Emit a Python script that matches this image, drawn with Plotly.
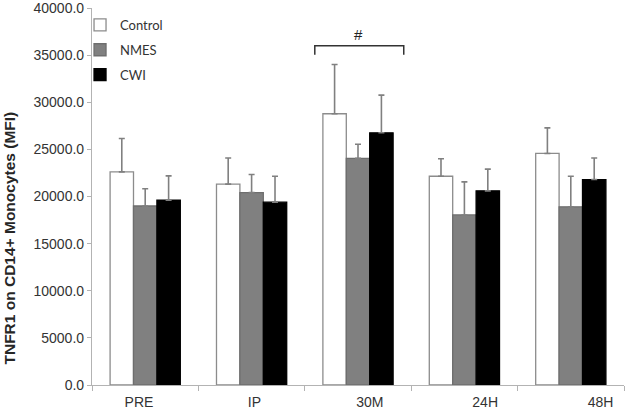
import plotly.graph_objects as go

categories = ["PRE", "IP", "30M", "24H", "48H"]
series_names = ["Control", "NMES", "CWI"]

control_vals = [22610, 21310, 28780, 22150, 24570]
control_err = [3550, 2780, 5220, 1850, 2710]
nmes_vals = [18990, 20420, 24040, 18040, 18900]
nmes_err = [1830, 1910, 1500, 3510, 3250]
cwi_vals = [19620, 19400, 26760, 20600, 21800]
cwi_err = [2570, 2750, 4000, 2300, 2280]

y_ticks = [0, 5000, 10000, 15000, 20000, 25000, 30000, 35000, 40000]
y_title = "TNFR1 on CD14+ Monocytes (MFI)"
sig_label = "#"

fills = ["#ffffff", "#808080", "#000000"]
outlines = ["#8c8c8c", "#6e6e6e", "#000000"]
axis_grey = "#b3b3b3"
tick_font = dict(family="Liberation Sans, Arial, sans-serif", size=14, color="#333333")

fig = go.Figure()
for name, vals, errs, fc, lc in zip(series_names,
                                    [control_vals, nmes_vals, cwi_vals],
                                    [control_err, nmes_err, cwi_err],
                                    fills, outlines):
    fig.add_trace(go.Bar(
        x=categories, y=vals, name=name, legendgroup=name,
        marker=dict(color=fc, line=dict(color=lc, width=1.3)),
        error_y=dict(type="data", symmetric=False, array=errs,
                     arrayminus=[0] * len(errs),
                     color="#808080", thickness=1.6, width=3),
    ))

# invisible carrier trace so the label axis (x2) is drawn
fig.add_trace(go.Scatter(x=list(range(len(categories))), y=[0] * len(categories),
                         xaxis="x2", yaxis="y", mode="markers",
                         marker=dict(opacity=0), showlegend=False, hoverinfo="skip"))

# significance bracket over 30M group
fig.add_shape(type="path",
              path="M 1.594,35050 L 1.594,36000 L 2.43,36000 L 2.43,35050",
              xref="x", yref="y", line=dict(color="#333333", width=1.5))
fig.add_annotation(x=2.0, y=36050, xref="x", yref="y", text=sig_label,
                   showarrow=False, yanchor="bottom",
                   font=dict(family="Liberation Sans, Arial, sans-serif", size=15, color="#222222"))

# y-axis title
fig.add_annotation(x=-0.155, y=0.39, xref="paper", yref="paper", text="<b>" + y_title + "</b>",
                   textangle=-90, showarrow=False, xanchor="center", yanchor="middle",
                   font=dict(family="Liberation Sans, Arial, sans-serif", size=15.5, color="#262626"))

fig.update_layout(
    width=630, height=411,
    margin=dict(l=92, r=6, t=8, b=26, autoexpand=False),
    paper_bgcolor="white", plot_bgcolor="white",
    barmode="group", bargap=0.34, bargroupgap=0,
    showlegend=True,
    legend=dict(x=-0.0225, y=0.995, xanchor="left", yanchor="top",
                bgcolor="rgba(0,0,0,0)", tracegroupgap=5,
                font=dict(family="Lato, Open Sans, sans-serif", size=13, color="#333333")),
    xaxis=dict(type="category", range=[-0.5, 4.5], showticklabels=False,
               ticks="outside", tickson="boundaries", ticklen=5, tickcolor=axis_grey,
               showline=True, linecolor=axis_grey, linewidth=1.2, showgrid=False, zeroline=False),
    xaxis2=dict(overlaying="x", anchor="y", side="bottom", range=[-0.407, 4.203],
                tickmode="array", tickvals=[0, 1, 2, 3, 4], ticktext=categories,
                ticks="outside", ticklen=4, tickcolor="rgba(0,0,0,0)",
                showline=False, showgrid=False, zeroline=False, tickfont=tick_font),
    yaxis=dict(range=[0, 40000], tickmode="array", tickvals=y_ticks, tickformat=".1f",
               ticks="outside", ticklen=4, tickcolor=axis_grey, ticklabeloverflow="allow",
               showline=True, linecolor=axis_grey, linewidth=1.2, showgrid=False, zeroline=False,
               tickfont=tick_font),
)

fig.write_html("out.html", config={"displayModeBar": False},
               post_script="document.body.style.margin='0';")
